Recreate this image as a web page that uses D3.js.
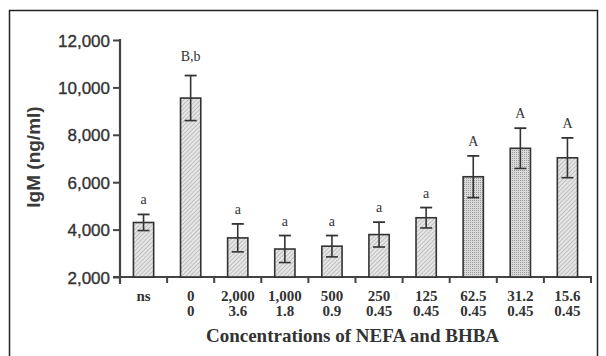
<!DOCTYPE html>
<html>
<head>
<meta charset="utf-8">
<script src="https://cdn.jsdelivr.net/npm/d3@7"></script>
<style>
  body { margin: 0; background: #fff; }
  svg { display: block; }
</style>
</head>
<body>
<svg id="chart" width="606" height="356"></svg>
<script>
const nefa = ["ns", "0", "2,000", "1,000", "500", "250", "125", "62.5", "31.2", "15.6"];
const bhba = ["", "0", "3.6", "1.8", "0.9", "0.45", "0.45", "0.45", "0.45", "0.45"];
const igm = [4300, 9550, 3650, 3180, 3300, 3790, 4500, 6230, 7430, 7030];
const sem = [340, 950, 590, 570, 450, 525, 430, 880, 850, 840];
const letters = ["a", "B,b", "a", "a", "a", "a", "a", "A", "A", "A"];
const yTicks = [2000, 4000, 6000, 8000, 10000, 12000];

const margin = {top: 40, right: 15, bottom: 79, left: 120},
  width = 591 - margin.left,
  height = 277 - margin.top;

const svg = d3.select("#chart");

// scanned-page frame
svg.append("path")
  .attr("d", "M9.5,360V10.5H597.5V360")
  .attr("fill", "none")
  .attr("stroke", "#222")
  .attr("stroke-width", 1.5);

const defs = svg.append("defs");
const hatch = defs.append("pattern")
  .attr("id", "hatch")
  .attr("patternUnits", "userSpaceOnUse")
  .attr("width", 3).attr("height", 3)
  .attr("patternTransform", "rotate(45)");
hatch.append("rect").attr("width", 3).attr("height", 3).attr("fill", "#e6e6e6");
hatch.append("line").attr("x1", 0).attr("y1", 0).attr("x2", 0).attr("y2", 3)
  .attr("stroke", "#9e9e9e").attr("stroke-width", 1.1);

const dense = defs.append("pattern")
  .attr("id", "dense")
  .attr("patternUnits", "userSpaceOnUse")
  .attr("width", 2).attr("height", 2);
dense.append("rect").attr("width", 2).attr("height", 2).attr("fill", "#dadada");
dense.append("rect").attr("width", 1).attr("height", 1).attr("fill", "#9a9a9a");

const g = svg.append("g")
  .attr("transform", `translate(${margin.left},${margin.top})`);

const x = d3.scaleBand()
  .domain(d3.range(nefa.length))
  .range([0, width])
  .paddingInner(0.57)
  .paddingOuter(0.285);

const band = d3.scaleBand()
  .domain(d3.range(nefa.length))
  .range([0, width]);

const y = d3.scaleLinear()
  .domain([2000, 12000])
  .range([height, 0]);

// y axis
const yAxis = g.append("g")
  .call(d3.axisLeft(y).tickValues(yTicks).tickFormat(d3.format(",")).tickSize(7).tickPadding(3));
yAxis.select(".domain").remove();
yAxis.selectAll(".tick line").attr("stroke", "#444").attr("stroke-width", 2);
yAxis.selectAll("text")
  .attr("font-family", "'Liberation Sans', Arial, sans-serif")
  .attr("font-size", 17)
  .attr("fill", "#333")
  .attr("stroke", "#333")
  .attr("stroke-width", 0.35)
  .attr("dy", "0.36em");
g.append("line")
  .attr("x1", 0).attr("x2", 0)
  .attr("y1", y(12000) - 1).attr("y2", height + 7)
  .attr("stroke", "#444").attr("stroke-width", 2.2);

// x axis line and ticks at band edges
g.append("line")
  .attr("x1", -7).attr("x2", width + 1)
  .attr("y1", height).attr("y2", height)
  .attr("stroke", "#444").attr("stroke-width", 2.2);
g.selectAll(".xtick")
  .data(d3.range(1, nefa.length + 1))
  .join("line")
  .attr("class", "xtick")
  .attr("x1", d => band(d - 1) + band.bandwidth())
  .attr("x2", d => band(d - 1) + band.bandwidth())
  .attr("y1", height).attr("y2", height + 6)
  .attr("stroke", "#444").attr("stroke-width", 2);

// bars
g.selectAll(".bar")
  .data(igm)
  .join("rect")
  .attr("class", "bar")
  .attr("x", (d, i) => x(i))
  .attr("width", x.bandwidth())
  .attr("y", d => y(d))
  .attr("height", d => height - y(d))
  .attr("fill", (d, i) => (i === 7 || i === 8) ? "url(#dense)" : "url(#hatch)")
  .attr("stroke", "#333")
  .attr("stroke-width", 1.6);

// error bars
const err = g.selectAll(".err")
  .data(igm)
  .join("g")
  .attr("class", "err")
  .attr("transform", (d, i) => `translate(${x(i) + x.bandwidth() / 2},0)`);
err.append("line")
  .attr("y1", (d, i) => y(d - sem[i]))
  .attr("y2", (d, i) => y(d + sem[i]))
  .attr("stroke", "#333").attr("stroke-width", 1.6);
err.append("line")
  .attr("x1", -6).attr("x2", 6)
  .attr("y1", (d, i) => y(d + sem[i]))
  .attr("y2", (d, i) => y(d + sem[i]))
  .attr("stroke", "#333").attr("stroke-width", 1.8);
err.append("line")
  .attr("x1", -6).attr("x2", 6)
  .attr("y1", (d, i) => y(d - sem[i]))
  .attr("y2", (d, i) => y(d - sem[i]))
  .attr("stroke", "#333").attr("stroke-width", 1.6);
err.append("text")
  .attr("y", (d, i) => y(d + sem[i]) - (i === 1 ? 15 : 10))
  .attr("text-anchor", "middle")
  .attr("font-family", "'Liberation Serif', 'Times New Roman', serif")
  .attr("font-size", 14)
  .attr("fill", "#333")
  .text((d, i) => letters[i]);

// category labels, two rows
const serifBold = sel => sel
  .attr("text-anchor", "middle")
  .attr("font-family", "'Liberation Serif', 'Times New Roman', serif")
  .attr("font-weight", "bold")
  .attr("font-size", 15)
  .attr("fill", "#333");

g.selectAll(".xlab1")
  .data(nefa)
  .join("text")
  .attr("class", "xlab1")
  .attr("x", (d, i) => band(i) + band.bandwidth() / 2)
  .attr("y", height + 24)
  .call(serifBold)
  .text(d => d);

g.selectAll(".xlab2")
  .data(bhba)
  .join("text")
  .attr("class", "xlab2")
  .attr("x", (d, i) => band(i) + band.bandwidth() / 2)
  .attr("y", height + 39)
  .call(serifBold)
  .text(d => d);

// axis titles
g.append("text")
  .attr("x", width / 2 - 3)
  .attr("y", height + 65)
  .call(serifBold)
  .attr("font-size", 19)
  .text("Concentrations of NEFA and BHBA");

g.append("text")
  .attr("transform", `translate(${33 - margin.left},${157 - margin.top}) rotate(-90)`)
  .attr("text-anchor", "middle")
  .attr("dy", "0.36em")
  .attr("font-family", "'Liberation Sans', Arial, sans-serif")
  .attr("font-weight", "bold")
  .attr("font-size", 19)
  .attr("fill", "#3a3a3a")
  .text("IgM (ng/ml)");
</script>
</body>
</html>
